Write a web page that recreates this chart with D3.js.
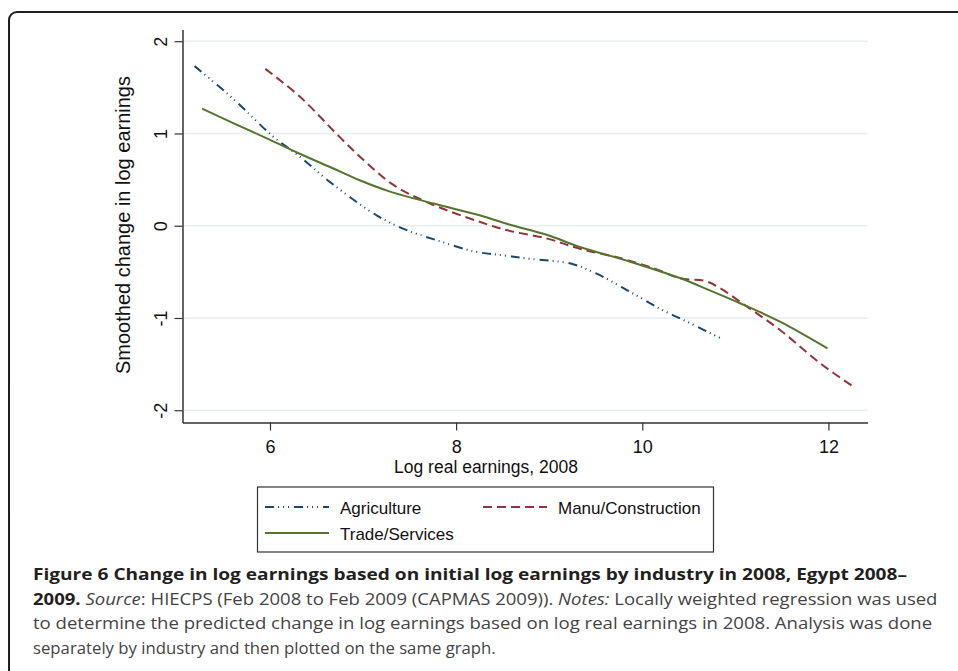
<!DOCTYPE html>
<html>
<head>
<meta charset="utf-8">
<script src="https://cdn.jsdelivr.net/npm/d3@7"></script>
<style>
  body { margin: 0; background: #fff; }
  svg { display: block; }
</style>
</head>
<body>
<div id="chart"></div>
<script>
// series (x = log real earnings 2008, y = smoothed change)
const seriesNames = ["Agriculture", "Manu/Construction", "Trade/Services"];

const agriX = [5.19, 5.60, 6.03, 6.32, 6.65, 7.15, 7.45, 7.80, 8.20, 8.50, 8.80, 9.23, 9.51, 9.84, 10.19, 10.48, 10.86];
const agriY = [1.73, 1.38, 0.97, 0.75, 0.47, 0.11, -0.04, -0.16, -0.28, -0.32, -0.36, -0.41, -0.52, -0.70, -0.90, -1.04, -1.23];

const manuX = [5.95, 6.32, 6.75, 7.04, 7.33, 7.72, 8.26, 8.55, 8.98, 9.33, 9.76, 10.12, 10.41, 10.68, 10.84, 11.13, 11.48, 11.91, 12.29];
const manuY = [1.70, 1.40, 0.96, 0.68, 0.44, 0.24, 0.04, -0.05, -0.14, -0.25, -0.35, -0.46, -0.57, -0.60, -0.68, -0.88, -1.13, -1.49, -1.76];

const tradeX = [5.27, 5.61, 5.96, 6.32, 6.68, 6.97, 7.29, 7.76, 8.26, 8.58, 8.98, 9.33, 9.87, 10.41, 10.77, 11.05, 11.48, 11.99];
const tradeY = [1.27, 1.11, 0.95, 0.78, 0.62, 0.49, 0.37, 0.24, 0.11, 0.01, -0.10, -0.23, -0.39, -0.57, -0.72, -0.84, -1.04, -1.33];

const xTicks = [6, 8, 10, 12];
const yTicks = [-2, -1, 0, 1, 2];
const xTitle = "Log real earnings, 2008";
const yTitle = "Smoothed change in log earnings";

const width = 958;
const height = 671;
const plot = {left: 182.5, right: 867.5, top: 29.5, bottom: 422.5};

const colors = ["#1a476f", "#90353b", "#55752f"];
const dashes = ["9,4,1,4,1,4,1,5", "9,5", null];

const svg = d3.select("#chart")
  .append("svg")
  .attr("width", width)
  .attr("height", height)
  .style("font-family", "'Liberation Sans', Arial, sans-serif");

// outer rounded frame, runs off the right and bottom edges
svg.append("rect")
  .attr("x", 9).attr("y", 12)
  .attr("width", 1100).attr("height", 800)
  .attr("rx", 8)
  .attr("fill", "none")
  .attr("stroke", "#231f20")
  .attr("stroke-width", 2);

const x = d3.scaleLinear().domain([5.06, 12.42]).range([plot.left, plot.right]);
const y = d3.scaleLinear().domain([-2.133, 2.127]).range([plot.bottom, plot.top]);

// grid lines
svg.append("g")
  .selectAll("line")
  .data(yTicks)
  .enter()
  .append("line")
  .attr("x1", plot.left).attr("x2", plot.right)
  .attr("y1", d => y(d)).attr("y2", d => y(d))
  .attr("stroke", "#e6eef0")
  .attr("stroke-width", 1.6);

// plain hyphen for negatives, like the original
const fmt = d => String(d);

// x axis
const gx = svg.append("g")
  .attr("transform", `translate(0,${plot.bottom})`)
  .call(d3.axisBottom(x).tickValues(xTicks).tickSize(8).tickSizeOuter(0).tickFormat(fmt));
gx.select(".domain").attr("stroke", "#333").attr("stroke-width", 1.5);
gx.selectAll(".tick line").attr("stroke", "#333").attr("stroke-width", 1.2);
gx.selectAll(".tick text")
  .attr("y", 30.5).attr("dy", 0)
  .attr("font-size", 18).attr("fill", "#111")
  .attr("font-family", "'Liberation Sans', Arial, sans-serif");

// y axis, labels rotated like Stata does
const gy = svg.append("g")
  .attr("transform", `translate(${plot.left},0)`)
  .call(d3.axisLeft(y).tickValues(yTicks).tickSize(8).tickSizeOuter(0).tickFormat(fmt));
gy.select(".domain").attr("stroke", "#333").attr("stroke-width", 1.5);
gy.selectAll(".tick line").attr("stroke", "#333").attr("stroke-width", 1.2);
gy.selectAll(".tick text")
  .attr("transform", "rotate(-90)")
  .attr("x", 0).attr("y", -16).attr("dy", 0)
  .style("text-anchor", "middle")
  .attr("font-size", 18).attr("fill", "#111")
  .attr("font-family", "'Liberation Sans', Arial, sans-serif");

// axis titles
svg.append("text")
  .attr("x", 486).attr("y", 473)
  .attr("text-anchor", "middle")
  .attr("font-size", 17.5).attr("fill", "#111")
  .text(xTitle);

svg.append("text")
  .attr("transform", `translate(130,${(plot.top + plot.bottom) / 2 - 1}) rotate(-90)`)
  .attr("text-anchor", "middle")
  .attr("font-size", 20).attr("fill", "#111")
  .text(yTitle);

// the three smoothed lines
const series = [
  {name: seriesNames[0], xs: agriX, ys: agriY},
  {name: seriesNames[1], xs: manuX, ys: manuY},
  {name: seriesNames[2], xs: tradeX, ys: tradeY}
];

const line = d3.line()
  .x(d => x(d[0]))
  .y(d => y(d[1]))
  .curve(d3.curveCatmullRom.alpha(0.5));

svg.append("g")
  .selectAll("path")
  .data(series)
  .enter()
  .append("path")
  .attr("d", d => line(d.xs.map((v, i) => [v, d.ys[i]])))
  .attr("fill", "none")
  .attr("stroke", (d, i) => colors[i])
  .attr("stroke-width", 2)
  .attr("stroke-dasharray", (d, i) => dashes[i]);

// legend
const legend = svg.append("g");
legend.append("rect")
  .attr("x", 257.5).attr("y", 487)
  .attr("width", 456).attr("height", 65)
  .attr("fill", "#fff")
  .attr("stroke", "#333")
  .attr("stroke-width", 1.2);

const legendPos = [[265, 507], [483, 507], [265, 533]];
series.forEach((s, i) => {
  const [lx, ly] = legendPos[i];
  legend.append("line")
    .attr("x1", lx).attr("x2", lx + 64)
    .attr("y1", ly).attr("y2", ly)
    .attr("stroke", colors[i])
    .attr("stroke-width", 2)
    .attr("stroke-dasharray", dashes[i]);
  legend.append("text")
    .attr("x", lx + 75).attr("y", ly + 6.5)
    .attr("font-size", 17).attr("fill", "#111")
    .text(s.name);
});

// figure caption
const caption = [
  {y: 580, w: 875, parts: [["Figure 6 Change in log earnings based on initial log earnings by industry in 2008, Egypt 2008\u2013", "bold", "normal"]]},
  {y: 604.5, w: 905, parts: [["2009.", "bold", "normal"], [" Source", "normal", "italic"], [": HIECPS (Feb 2008 to Feb 2009 (CAPMAS 2009)). ", "normal", "normal"], ["Notes:", "normal", "italic"], [" Locally weighted regression was used", "normal", "normal"]]},
  {y: 629, w: 900, parts: [["to determine the predicted change in log earnings based on log real earnings in 2008. Analysis was done", "normal", "normal"]]},
  {y: 653.5, w: 463, parts: [["separately by industry and then plotted on the same graph.", "normal", "normal"]]}
];

caption.forEach(c => {
  const t = svg.append("text")
    .attr("font-family", "'Open Sans', 'Noto Sans', sans-serif")
    .attr("font-size", 16.5)
    .attr("xml:space", "preserve");
  c.parts.forEach(p => {
    t.append("tspan")
      .attr("font-weight", p[1])
      .attr("font-style", p[2])
      .attr("fill", p[1] === "bold" ? "#231f20" : "#444")
      .text(p[0]);
  });
  const natural = t.node().getComputedTextLength();
  t.attr("transform", `translate(33,${c.y}) scale(${c.w / natural},1)`);
});
</script>
</body>
</html>
